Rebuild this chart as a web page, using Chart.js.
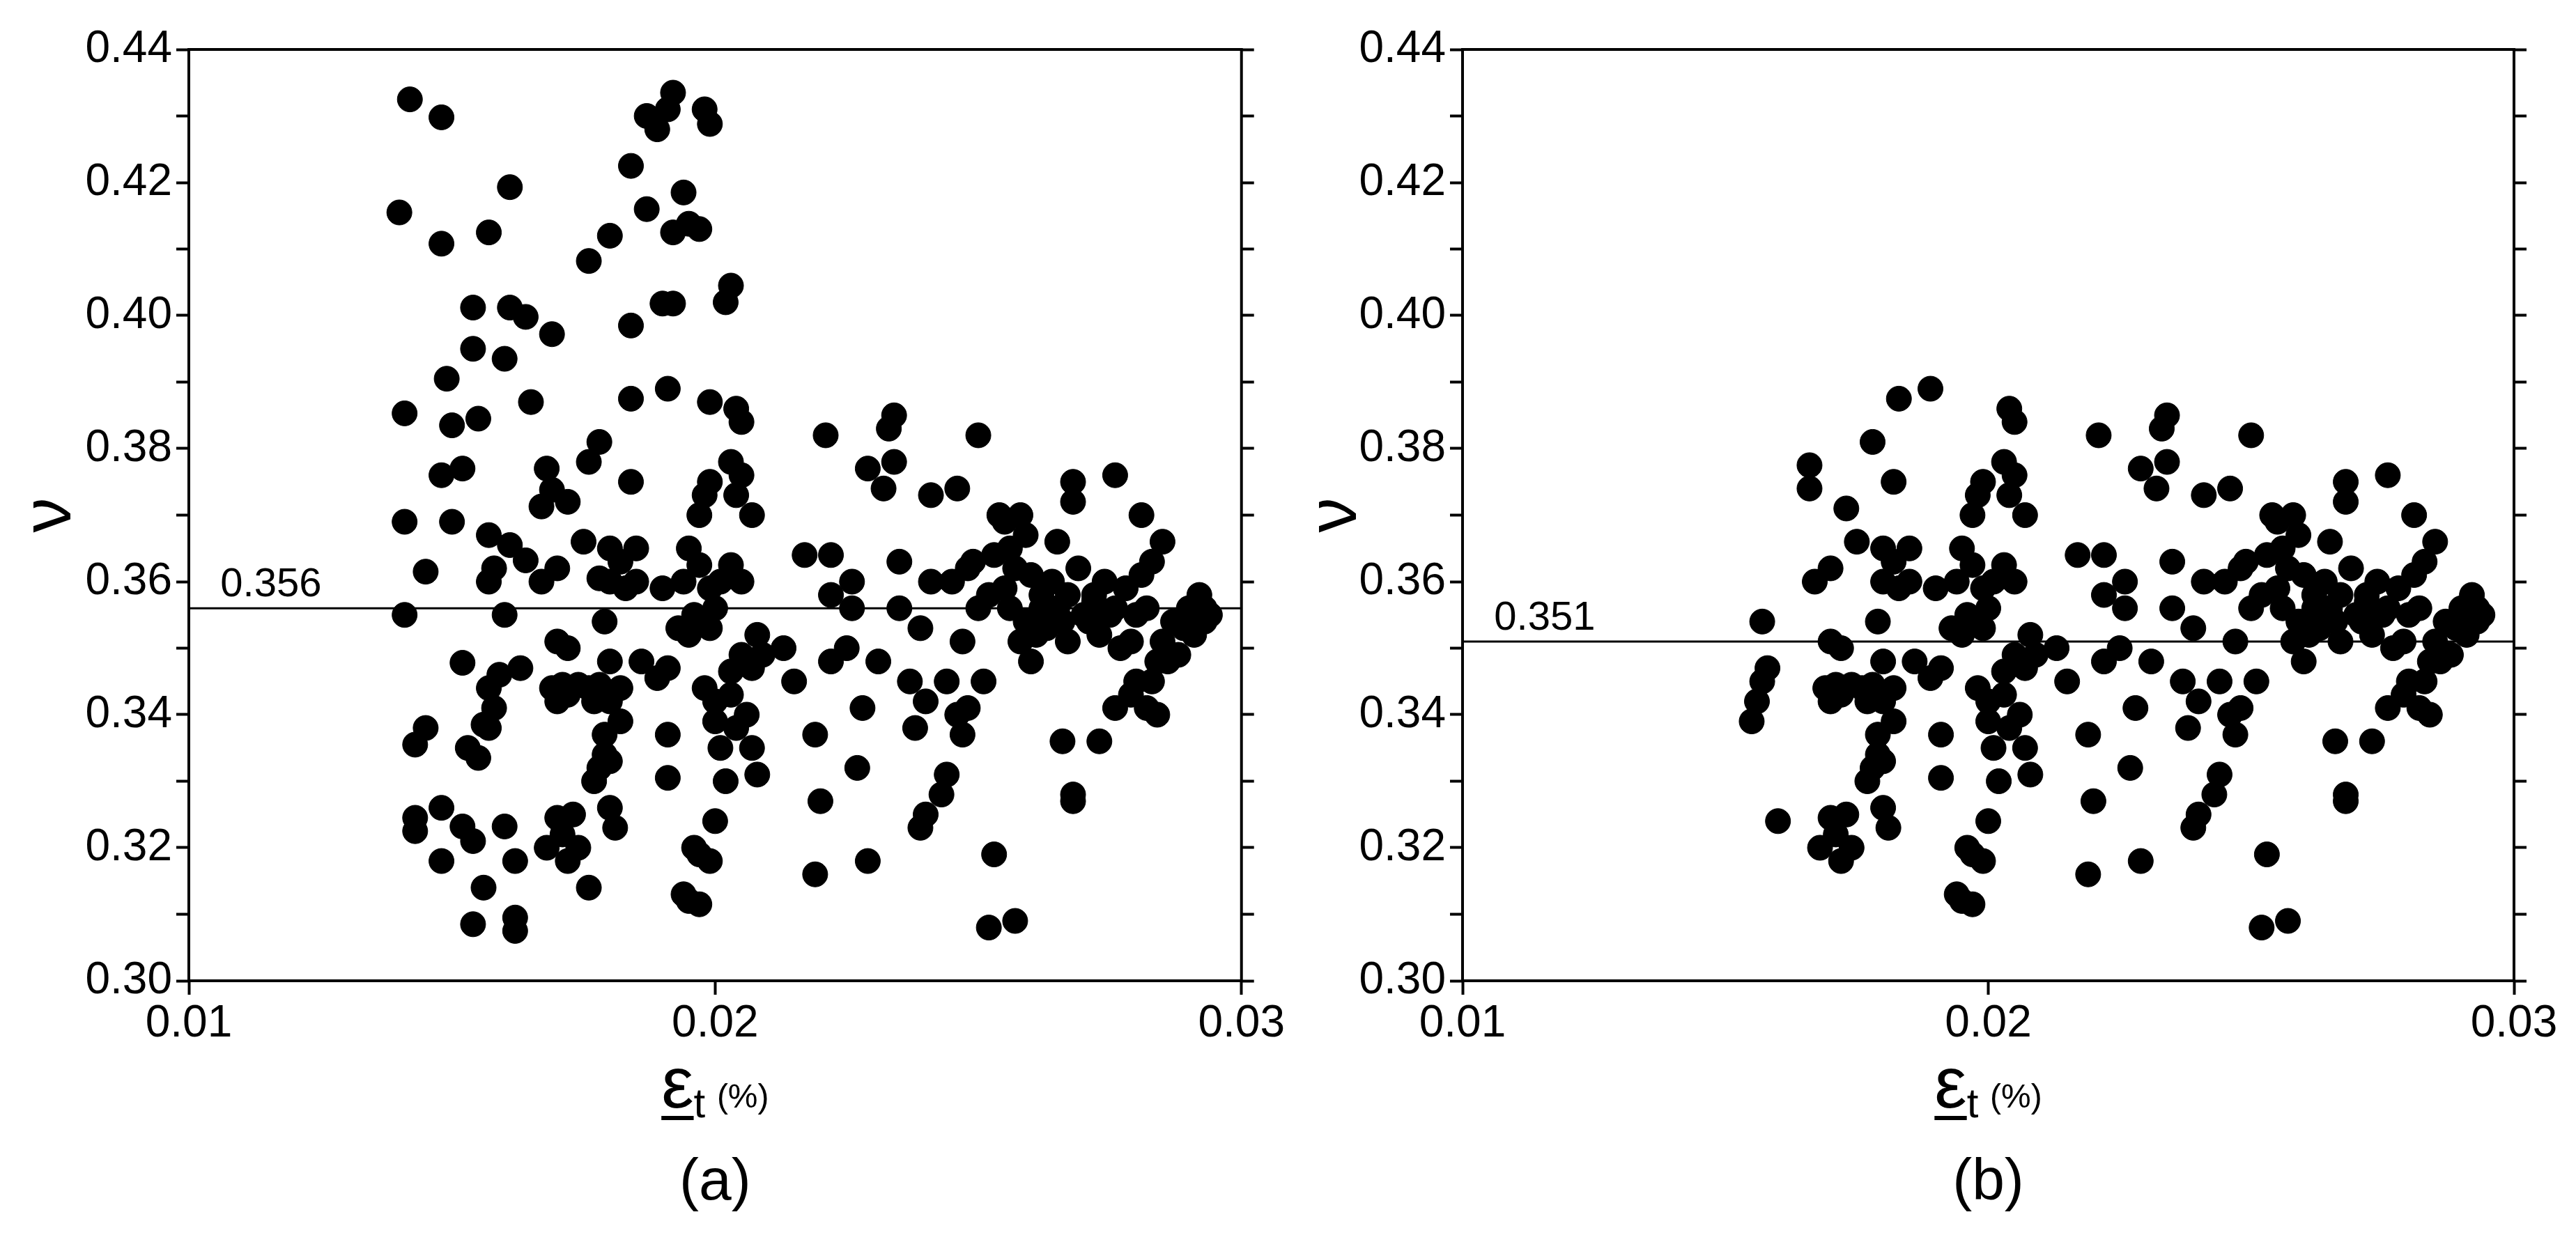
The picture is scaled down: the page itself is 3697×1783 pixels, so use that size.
<!DOCTYPE html>
<html>
<head>
<meta charset="utf-8">
<script src="https://cdn.jsdelivr.net/npm/chart.js@4"></script>
<style>
  body { margin: 0; background: #fff; }
  .panel { position: absolute; top: 0; width: 1848px; height: 1783px; }
</style>
</head>
<body>
<div class="panel" style="left:0"><canvas id="chartA"></canvas></div>
<div class="panel" style="left:1848px"><canvas id="chartB"></canvas></div>
<script>
// tick labels
const xTicks = [0.01, 0.02, 0.03];
const yTicks = [0.30, 0.31, 0.32, 0.33, 0.34, 0.35, 0.36, 0.37, 0.38, 0.39, 0.40, 0.41, 0.42, 0.43, 0.44];
const meanA = 0.356;
const meanB = 0.351;

// panel (a) points [strain %, poisson]
const pointsA = [
  [0.0142,0.4325],[0.0148,0.4298],[0.0140,0.4155],[0.0148,0.4108],[0.0161,0.4193],[0.0157,0.4125],[0.0154,0.4012],[0.0161,0.4012],
  [0.0164,0.3998],[0.0154,0.3950],[0.0160,0.3935],[0.0149,0.3905],[0.0141,0.3853],[0.0150,0.3835],[0.0155,0.3845],[0.0165,0.3870],
  [0.0169,0.3972],[0.0148,0.3760],[0.0152,0.3770],[0.0141,0.3690],[0.0150,0.3690],[0.0145,0.3615],[0.0157,0.3670],[0.0161,0.3655],
  [0.0164,0.3632],[0.0167,0.3713],[0.0169,0.3738],[0.0168,0.3770],[0.0172,0.3720],[0.0176,0.3780],[0.0178,0.3810],[0.0176,0.4082],
  [0.0180,0.4120],[0.0184,0.4225],[0.0187,0.4160],[0.0187,0.4300],[0.0189,0.4280],[0.0191,0.4310],[0.0192,0.4335],[0.0190,0.4018],
  [0.0192,0.4018],[0.0194,0.4185],[0.0195,0.4138],[0.0192,0.4125],[0.0197,0.4130],[0.0198,0.4310],[0.0199,0.4288],[0.0184,0.3985],
  [0.0184,0.3875],[0.0184,0.3750],[0.0191,0.3890],[0.0199,0.3870],[0.0202,0.4020],[0.0203,0.4045],[0.0204,0.3860],[0.0205,0.3840],
  [0.0203,0.3780],[0.0205,0.3760],
  [0.0141,0.3550],[0.0143,0.3355],[0.0145,0.3380],[0.0143,0.3245],[0.0143,0.3225],[0.0148,0.3260],[0.0148,0.3180],[0.0152,0.3232],
  [0.0154,0.3210],[0.0153,0.3350],[0.0155,0.3335],[0.0156,0.3385],[0.0152,0.3478],[0.0157,0.3440],[0.0159,0.3460],[0.0158,0.3410],
  [0.0157,0.3380],[0.0160,0.3232],[0.0156,0.3140],[0.0154,0.3085],[0.0162,0.3095],[0.0162,0.3075],[0.0162,0.3180],[0.0157,0.3600],
  [0.0160,0.3550],[0.0163,0.3470],[0.0158,0.3620],
  [0.0167,0.3600],[0.0170,0.3620],[0.0170,0.3510],[0.0172,0.3500],[0.0169,0.3440],[0.0171,0.3445],[0.0170,0.3420],[0.0172,0.3430],
  [0.0174,0.3445],[0.0176,0.3440],[0.0178,0.3445],[0.0177,0.3420],[0.0168,0.3200],[0.0170,0.3245],[0.0171,0.3220],[0.0173,0.3250],
  [0.0172,0.3180],[0.0174,0.3200],[0.0176,0.3140],[0.0177,0.3300],[0.0178,0.3320],[0.0179,0.3340],[0.0180,0.3330],[0.0180,0.3260],
  [0.0181,0.3230],[0.0179,0.3370],[0.0182,0.3390],[0.0180,0.3420],[0.0182,0.3440],[0.0180,0.3480],[0.0179,0.3540],[0.0175,0.3660],
  [0.0180,0.3650],[0.0182,0.3630],[0.0185,0.3650],[0.0180,0.3600],[0.0183,0.3590],[0.0185,0.3600],[0.0178,0.3605],
  [0.0186,0.3480],[0.0189,0.3455],[0.0191,0.3470],[0.0190,0.3590],[0.0191,0.3370],[0.0191,0.3305],[0.0194,0.3130],[0.0195,0.3120],
  [0.0197,0.3115],[0.0196,0.3200],[0.0197,0.3190],[0.0193,0.3530],[0.0195,0.3520],[0.0196,0.3550],[0.0194,0.3600],[0.0195,0.3650],
  [0.0197,0.3700],[0.0198,0.3730],[0.0199,0.3750],[0.0197,0.3625],[0.0199,0.3590],[0.0200,0.3560],[0.0201,0.3600],[0.0199,0.3530],
  [0.0198,0.3440],[0.0200,0.3420],[0.0200,0.3390],[0.0201,0.3350],[0.0202,0.3300],[0.0200,0.3240],[0.0199,0.3180],[0.0203,0.3430],
  [0.0203,0.3465],[0.0204,0.3380],[0.0203,0.3625],[0.0205,0.3600],[0.0205,0.3490],[0.0206,0.3400],[0.0207,0.3350],[0.0208,0.3310],
  [0.0207,0.3470],[0.0208,0.3520],[0.0209,0.3490],[0.0204,0.3730],[0.0207,0.3700],
  [0.0213,0.3500],[0.0215,0.3450],[0.0217,0.3640],[0.0219,0.3370],[0.0219,0.3160],[0.0221,0.3820],[0.0222,0.3640],[0.0222,0.3580],
  [0.0220,0.3270],[0.0222,0.3480],[0.0225,0.3500],[0.0226,0.3600],[0.0226,0.3560],[0.0227,0.3320],[0.0228,0.3410],[0.0229,0.3180],
  [0.0229,0.3770],[0.0231,0.3480],[0.0232,0.3740],[0.0233,0.3830],[0.0234,0.3850],[0.0234,0.3780],[0.0235,0.3630],[0.0235,0.3560],
  [0.0237,0.3450],[0.0238,0.3380],[0.0239,0.3530],[0.0240,0.3420],[0.0239,0.3230],[0.0240,0.3250],[0.0241,0.3600],[0.0241,0.3730],
  [0.0243,0.3280],[0.0244,0.3310],[0.0244,0.3450],[0.0245,0.3600],[0.0246,0.3740],[0.0247,0.3510],[0.0247,0.3370],[0.0246,0.3400],
  [0.0248,0.3620],[0.0249,0.3630],[0.0248,0.3410],[0.0250,0.3820],[0.0251,0.3450],[0.0252,0.3080],[0.0253,0.3190],[0.0250,0.3560],
  [0.0252,0.3580],
  [0.0253,0.3640],[0.0254,0.3700],[0.0255,0.3690],[0.0256,0.3650],[0.0256,0.3560],[0.0257,0.3620],[0.0257,0.3090],[0.0258,0.3700],
  [0.0259,0.3670],[0.0259,0.3540],[0.0260,0.3610],[0.0260,0.3480],[0.0261,0.3520],[0.0262,0.3580],[0.0263,0.3550],[0.0263,0.3530],
  [0.0264,0.3600],[0.0265,0.3560],[0.0265,0.3660],[0.0266,0.3360],[0.0267,0.3510],[0.0267,0.3580],[0.0268,0.3720],[0.0268,0.3750],
  [0.0268,0.3280],[0.0268,0.3270],[0.0269,0.3620],[0.0270,0.3550],[0.0271,0.3540],[0.0272,0.3570],[0.0273,0.3520],[0.0273,0.3360],
  [0.0274,0.3600],[0.0275,0.3550],[0.0276,0.3760],[0.0276,0.3410],[0.0277,0.3500],[0.0278,0.3590],[0.0279,0.3510],[0.0279,0.3430],
  [0.0280,0.3550],[0.0280,0.3450],[0.0281,0.3610],[0.0281,0.3700],[0.0282,0.3410],[0.0282,0.3560],[0.0283,0.3630],[0.0283,0.3450],
  [0.0284,0.3400],[0.0284,0.3480],[0.0285,0.3660],[0.0285,0.3510],[0.0286,0.3480],[0.0287,0.3540],[0.0288,0.3490],[0.0289,0.3530],
  [0.0290,0.3560],[0.0291,0.3520],[0.0292,0.3580],[0.0293,0.3540],[0.0293,0.3560],[0.0294,0.3550],[0.0276,0.3560],[0.0272,0.3580],
  [0.0266,0.3540],[0.0262,0.3560],[0.0255,0.3590],[0.0258,0.3510]
];

// panel (b) points
const pointsB = [
  [0.0157,0.3540],[0.0155,0.3390],[0.0156,0.3420],[0.0157,0.3450],[0.0158,0.3470],[0.0160,0.3240],
  [0.0166,0.3775],[0.0166,0.3740],[0.0167,0.3600],[0.0170,0.3620],[0.0170,0.3510],[0.0172,0.3500],[0.0169,0.3440],[0.0171,0.3445],
  [0.0170,0.3420],[0.0172,0.3430],[0.0174,0.3445],[0.0176,0.3440],[0.0178,0.3445],[0.0177,0.3420],[0.0168,0.3200],[0.0170,0.3245],
  [0.0171,0.3220],[0.0173,0.3250],[0.0172,0.3180],[0.0174,0.3200],[0.0173,0.3710],[0.0177,0.3300],[0.0178,0.3320],[0.0179,0.3340],
  [0.0180,0.3330],[0.0180,0.3260],[0.0181,0.3230],[0.0179,0.3370],[0.0182,0.3390],[0.0180,0.3420],[0.0182,0.3440],[0.0180,0.3480],
  [0.0179,0.3540],[0.0175,0.3660],[0.0180,0.3650],[0.0182,0.3630],[0.0185,0.3650],[0.0180,0.3600],[0.0183,0.3590],[0.0185,0.3600],
  [0.0178,0.3810],[0.0183,0.3875],[0.0189,0.3890],[0.0182,0.3750],
  [0.0186,0.3480],[0.0189,0.3455],[0.0191,0.3470],[0.0190,0.3590],[0.0191,0.3370],[0.0191,0.3305],[0.0194,0.3130],[0.0195,0.3120],
  [0.0197,0.3115],[0.0196,0.3200],[0.0197,0.3190],[0.0193,0.3530],[0.0195,0.3520],[0.0196,0.3550],[0.0194,0.3600],[0.0195,0.3650],
  [0.0197,0.3700],[0.0198,0.3730],[0.0199,0.3750],[0.0197,0.3625],[0.0199,0.3590],[0.0200,0.3560],[0.0201,0.3600],[0.0199,0.3530],
  [0.0198,0.3440],[0.0200,0.3420],[0.0200,0.3390],[0.0201,0.3350],[0.0202,0.3300],[0.0200,0.3240],[0.0199,0.3180],[0.0203,0.3430],
  [0.0203,0.3465],[0.0204,0.3380],[0.0203,0.3625],[0.0205,0.3600],[0.0205,0.3490],[0.0206,0.3400],[0.0207,0.3350],[0.0208,0.3310],
  [0.0207,0.3470],[0.0208,0.3520],[0.0209,0.3490],[0.0204,0.3730],[0.0207,0.3700],[0.0204,0.3860],[0.0205,0.3840],[0.0203,0.3780],
  [0.0205,0.3760],
  [0.0213,0.3500],[0.0215,0.3450],[0.0217,0.3640],[0.0219,0.3370],[0.0219,0.3160],[0.0221,0.3820],[0.0222,0.3640],[0.0222,0.3580],
  [0.0220,0.3270],[0.0222,0.3480],[0.0225,0.3500],[0.0226,0.3600],[0.0226,0.3560],[0.0227,0.3320],[0.0228,0.3410],[0.0229,0.3180],
  [0.0229,0.3770],[0.0231,0.3480],[0.0232,0.3740],[0.0233,0.3830],[0.0234,0.3850],[0.0234,0.3780],[0.0235,0.3630],[0.0235,0.3560],
  [0.0237,0.3450],[0.0238,0.3380],[0.0239,0.3530],[0.0240,0.3420],[0.0239,0.3230],[0.0240,0.3250],[0.0241,0.3600],[0.0241,0.3730],
  [0.0243,0.3280],[0.0244,0.3310],[0.0244,0.3450],[0.0245,0.3600],[0.0246,0.3740],[0.0247,0.3510],[0.0247,0.3370],[0.0246,0.3400],
  [0.0248,0.3620],[0.0249,0.3630],[0.0248,0.3410],[0.0250,0.3820],[0.0251,0.3450],[0.0252,0.3080],[0.0253,0.3190],[0.0250,0.3560],
  [0.0252,0.3580],
  [0.0253,0.3640],[0.0254,0.3700],[0.0255,0.3690],[0.0256,0.3650],[0.0256,0.3560],[0.0257,0.3620],[0.0257,0.3090],[0.0258,0.3700],
  [0.0259,0.3670],[0.0259,0.3540],[0.0260,0.3610],[0.0260,0.3480],[0.0261,0.3520],[0.0262,0.3580],[0.0263,0.3550],[0.0263,0.3530],
  [0.0264,0.3600],[0.0265,0.3560],[0.0265,0.3660],[0.0266,0.3360],[0.0267,0.3510],[0.0267,0.3580],[0.0268,0.3720],[0.0268,0.3750],
  [0.0268,0.3280],[0.0268,0.3270],[0.0269,0.3620],[0.0270,0.3550],[0.0271,0.3540],[0.0272,0.3570],[0.0273,0.3520],[0.0273,0.3360],
  [0.0274,0.3600],[0.0275,0.3550],[0.0276,0.3760],[0.0276,0.3410],[0.0277,0.3500],[0.0278,0.3590],[0.0279,0.3510],[0.0279,0.3430],
  [0.0280,0.3550],[0.0280,0.3450],[0.0281,0.3610],[0.0281,0.3700],[0.0282,0.3410],[0.0282,0.3560],[0.0283,0.3630],[0.0283,0.3450],
  [0.0284,0.3400],[0.0284,0.3480],[0.0285,0.3660],[0.0285,0.3510],[0.0286,0.3480],[0.0287,0.3540],[0.0288,0.3490],[0.0289,0.3530],
  [0.0290,0.3560],[0.0291,0.3520],[0.0292,0.3580],[0.0293,0.3540],[0.0293,0.3560],[0.0294,0.3550],[0.0276,0.3560],[0.0272,0.3580],
  [0.0266,0.3540],[0.0262,0.3560],[0.0255,0.3590],[0.0258,0.3510]
];

const FONT = 'Liberation Sans, Arial, sans-serif';

// frame, mean label, x-axis title and panel label
const decorPlugin = {
  id: 'decor',
  afterDraw(chart, args, opts) {
    const ctx = chart.ctx, a = chart.chartArea;
    ctx.save();
    ctx.strokeStyle = '#000';
    ctx.lineWidth = 4;
    ctx.strokeRect(a.left, a.top, a.right - a.left, a.bottom - a.top);

    const xs = chart.scales.x, ys = chart.scales.y;
    ctx.fillStyle = '#000';
    ctx.font = '58px ' + FONT;
    ctx.textBaseline = 'bottom';
    ctx.textAlign = 'left';
    ctx.fillText(opts.mean.toFixed(3), xs.getPixelForValue(0.0106), ys.getPixelForValue(opts.mean) - 4);

    // x title: underlined epsilon with subscript t
    const cx = (a.left + a.right) / 2, by = 1590;
    ctx.textBaseline = 'alphabetic';
    ctx.font = '104px ' + FONT;
    const epsW = ctx.measureText('ε').width;
    ctx.font = '60px ' + FONT;
    const tW = ctx.measureText('t ').width;
    ctx.font = '48px ' + FONT;
    const pW = ctx.measureText('(%)').width;
    const x0 = cx - (epsW + tW + pW) / 2;
    ctx.font = '104px ' + FONT;
    ctx.fillText('ε', x0, by);
    ctx.fillRect(x0, by + 12, epsW, 6);
    ctx.font = '60px ' + FONT;
    ctx.fillText('t', x0 + epsW, by + 14);
    ctx.font = '48px ' + FONT;
    ctx.fillText('(%)', x0 + epsW + tW, by);

    ctx.font = '84px ' + FONT;
    ctx.textAlign = 'center';
    ctx.fillText(opts.label, cx, 1722);
    ctx.restore();
  }
};

function makeChart(id, points, mean, label, yWidth, pad) {
  new Chart(document.getElementById(id), {
    type: 'scatter',
    data: {
      datasets: [
        {
          data: points.map(p => ({ x: p[0], y: p[1] })),
          backgroundColor: '#000', borderColor: '#000',
          pointRadius: 18, pointHoverRadius: 18
        },
        {
          type: 'line',
          data: [{ x: 0.01, y: mean }, { x: 0.03, y: mean }],
          borderColor: '#000', borderWidth: 3, pointRadius: 0, showLine: true
        }
      ]
    },
    options: {
      responsive: true,
      maintainAspectRatio: false,
      animation: false,
      layout: { padding: pad },
      plugins: { legend: { display: false }, tooltip: { enabled: false }, decor: { mean: mean, label: label } },
      scales: {
        x: {
          type: 'linear', min: 0.01, max: 0.03,
          afterBuildTicks: s => { s.ticks = xTicks.map(v => ({ value: v })); },
          afterFit: s => { s.height = 100; },
          ticks: { color: '#000', font: { family: FONT, size: 64 }, padding: 4, callback: v => v.toFixed(2) },
          grid: { drawOnChartArea: false, drawTicks: true, tickLength: 20, tickWidth: 4, color: '#000' },
          border: { display: false }
        },
        y: {
          type: 'linear', min: 0.30, max: 0.44,
          afterBuildTicks: s => { s.ticks = yTicks.map(v => ({ value: v })); },
          afterFit: s => { s.width = yWidth; },
          ticks: {
            color: '#000', font: { family: FONT, size: 64 }, padding: 6,
            callback: v => (Math.round(v * 100) % 2 === 0 ? v.toFixed(2) : '')
          },
          title: { display: true, text: 'ν', color: '#000', font: { family: FONT, size: 100 }, padding: 4 },
          grid: { drawOnChartArea: false, drawTicks: true, tickLength: 18, tickWidth: 4, color: '#000' },
          border: { display: false }
        },
        y2: {
          type: 'linear', position: 'right', min: 0.30, max: 0.44,
          afterBuildTicks: s => { s.ticks = yTicks.map(v => ({ value: v })); },
          afterFit: s => { s.width = 20; },
          ticks: { display: false },
          grid: { drawOnChartArea: false, drawTicks: true, tickLength: 18, tickWidth: 4, color: '#000' },
          border: { display: false }
        }
      }
    },
    plugins: [decorPlugin]
  });
}

makeChart('chartA', pointsA, meanA, '(a)', 262, { left: 9, right: 24, top: 71, bottom: 275 });
makeChart('chartB', pointsB, meanB, '(b)', 245, { left: 6, right: 68, top: 71, bottom: 275 });
</script>
</body>
</html>
